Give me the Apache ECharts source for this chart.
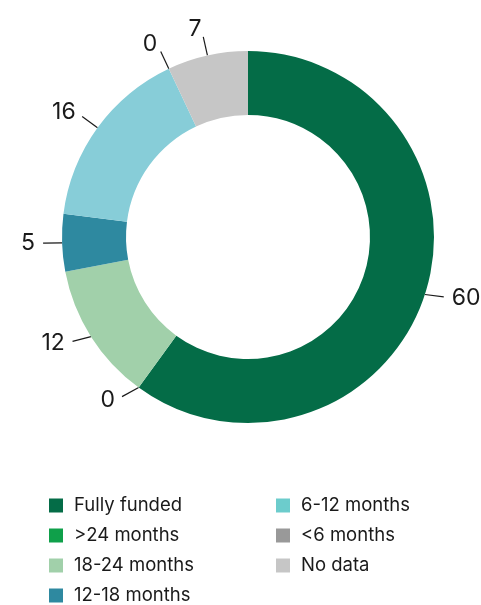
<!DOCTYPE html>
<html>
<head>
<meta charset="utf-8">
<script src="https://cdn.jsdelivr.net/npm/echarts@6/dist/echarts.min.js"></script>
<style>
  html, body { margin: 0; padding: 0; background: #fff; }
  #main { width: 481px; height: 605px; }
</style>
</head>
<body>
<div id="main"></div>
<script>
// categories and values, clockwise from the top
var categories = ['Fully funded', '>24 months', '18-24 months', '12-18 months', '6-12 months', '<6 months', 'No data'];
var values = [60, 0, 12, 5, 16, 0, 7];
var sliceColors = ['#046c47', '#0fa04a', '#a1d0aa', '#2e89a0', '#87cdd8', '#999999', '#c6c6c6'];
var legendColors = ['#046c47', '#0fa04a', '#a1d0aa', '#2e89a0', '#6ccccc', '#999999', '#c6c6c6'];

var fontFamily = 'Inter, "Noto Sans", sans-serif';

function legendItems(from, to) {
	var out = [];
	for (var i = from; i < to; i++) {
		out.push({ name: categories[i], itemStyle: { color: legendColors[i] } });
	}
	return out;
}

var data = [];
for (var i = 0; i < categories.length; i++) {
	data.push({ name: categories[i], value: values[i], itemStyle: { color: sliceColors[i] } });
}

// leader lines in the lower half lean towards horizontal; the number sits just past the line end
function placeLabel(params) {
	var pts = params.labelLinePoints;
	if (!pts || pts.length < 2) return {};
	var p0 = pts[0], p1 = pts[1];
	var dx = p1[0] - p0[0], dy = p1[1] - p0[1];
	var len = Math.sqrt(dx * dx + dy * dy) || 1;
	if (dy > 0) dy *= 0.4;
	var n = Math.sqrt(dx * dx + dy * dy) || 1;
	dx /= n; dy /= n;
	var end = [p0[0] + dx * len, p0[1] + dy * len];
	var gap = 8;
	return {
		x: end[0] + dx * gap,
		y: end[1] + dy * gap,
		align: dx < 0 ? 'right' : 'left',
		verticalAlign: 'middle',
		labelLinePoints: [p0, end]
	};
}

var legendBase = {
	orient: 'vertical',
	icon: 'rect',
	itemWidth: 14,
	itemHeight: 14,
	itemGap: 11,
	padding: 0,
	height: 120,
	selectedMode: false,
	textStyle: { fontFamily: fontFamily, fontSize: 18.5, color: '#1a1a1a', padding: [0, 0, 0, 6] }
};

var myChart = echarts.init(document.getElementById('main'));
var option = {
	animation: false,
	legend: [
		Object.assign({}, legendBase, { left: 49, top: 496, data: legendItems(0, 4) }),
		Object.assign({}, legendBase, { left: 276, top: 496, data: legendItems(4, 7) })
	],
	series: [{
		type: 'pie',
		center: [248, 237],
		radius: [122, 186],
		startAngle: 90,
		clockwise: true,
		avoidLabelOverlap: false,
		data: data,
		label: {
			show: true,
			position: 'outside',
			formatter: '{c}',
			fontFamily: fontFamily,
			fontSize: 23,
			color: '#1a1a1a'
		},
		labelLine: {
			show: true,
			length: 19,
			length2: 0,
			lineStyle: { color: '#1a1a1a', width: 1.2 }
		},
		labelLayout: placeLabel,
		emphasis: { disabled: true }
	}]
};
myChart.setOption(option);
</script>
</body>
</html>
